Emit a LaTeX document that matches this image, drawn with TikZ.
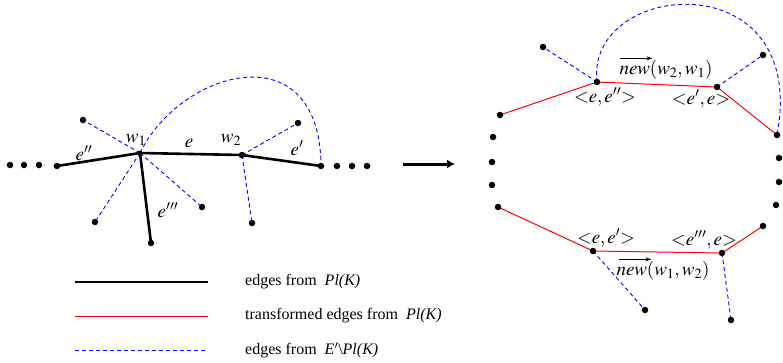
\documentclass[tikz,border=0pt]{standalone}
\usepackage{mathptmx}
\usepackage[no-math]{fontspec}
\setmainfont{Liberation Serif}
\usepackage{tikz}
\usetikzlibrary{arrows.meta, positioning, backgrounds}
\usepackage{xcolor}
\definecolor{EdgeRed}{HTML}{FF0000}
\definecolor{EdgeBlue}{HTML}{0000FF}
\tikzset{
    vtx/.style={circle, fill=black, inner sep=0pt, minimum size=6.5pt},
    plk/.style={line width=2.6pt, line join=round},
    trans/.style={draw=EdgeRed, line width=1pt},
    extra/.style={draw=EdgeBlue, line width=0.9pt, dash pattern=on 4pt off 3pt},
    lbl/.style={font=\fontsize{19}{21}\selectfont, inner sep=0pt},
    newarr/.style={-{Stealth[length=6pt, width=4pt]}, line width=0.8pt},
    legtext/.style={font=\fontsize{16}{18}\selectfont, inner sep=0pt}
}

\begin{document}
\begin{tikzpicture}[x=1pt, y=-1pt]
    \useasboundingbox (0,0) rectangle (783,362);

    % left: a piece of Pl(K)
    \foreach \x [count=\i] in {10,24,39} \node[vtx] (ldl\i) at (\x,165) {};
    \foreach \x [count=\i] in {337,352,367} \node[vtx] (ldr\i) at (\x,166) {};
    \node[vtx] (u0) at (57,166) {};
    \node[vtx, minimum size=5pt] (w1) at (140,153) {};
    \node[vtx] (w2) at (242,155) {};
    \node[vtx] (u3) at (321,166) {};
    \node[vtx] (u4) at (151,243) {};
    \node[vtx] (x1) at (83,120) {};
    \node[vtx] (x2) at (95,222) {};
    \node[vtx] (x3) at (202,207) {};
    \node[vtx] (x4) at (252,223) {};
    \node[vtx] (x5) at (298,123) {};

    \node[lbl] (lw1) at (136,140) {$w_1$};
    \node[lbl] (le) at (189,143) {$e$};
    \node[lbl] (lw2) at (231,140) {$w_2$};
    \node[lbl] (le1) at (297,148) {$e'$};
    \node[lbl] (le2) at (84,153) {$e''$};
    \node[lbl] (le3) at (168,210) {$e'''$};

    \begin{scope}[on background layer]
        \draw[extra] (w1.center) -- (x1);
        \draw[extra] (w1.center) -- (x2);
        \draw[extra] (w1.center) -- (x3);
        \draw[extra] (w2.center) -- (x4);
        \draw[extra] (w2.center) -- (x5);
        \draw[extra] (w1.center) .. controls (180,70) and (320,30) .. (u3.center);
        \draw[plk] (u0.center) -- (w1.center) -- (w2.center) -- (u3.center);
        \draw[plk] (w1.center) -- (u4.center);
    \end{scope}

    \coordinate (ar1) at (403,164);
    \coordinate (ar2) at (455,164);
    \draw[-{Latex[length=8pt, width=9pt]}, line width=3pt] (ar1) -- (ar2);

    % right: the transformed edges
    \foreach \x/\y [count=\i] in {493/137, 492/162, 492/185} \node[vtx] (rdl\i) at (\x,\y) {};
    \foreach \x/\y [count=\i] in {779/158, 779/182, 776/205} \node[vtx] (rdr\i) at (\x,\y) {};
    \node[vtx] (p1) at (500,115) {};
    \node[vtx] (ee2) at (597,82) {};
    \node[vtx] (ee1) at (717,87) {};
    \node[vtx] (p2) at (777,135) {};
    \node[vtx] (q1) at (498,207) {};
    \node[vtx] (ee3) at (593,251) {};
    \node[vtx] (ee4) at (722,253) {};
    \node[vtx] (q2) at (763,226) {};
    \node[vtx] (y1) at (543,47) {};
    \node[vtx] (y2) at (763,55) {};
    \node[vtx] (y3) at (645,310) {};
    \node[vtx] (y4) at (731,320) {};

    \node[lbl] (lee2) at (605,97) {${<}e,e''{>}$};
    \node[lbl] (lee1) at (701,99) {${<}e',e{>}$};
    \node[lbl] (ln21) at (666,70) {$new(w_2,w_1)$};
    \node[lbl] (lee3) at (606,238) {${<}e,e'{>}$};
    \node[lbl] (lee4) at (704,240) {${<}e''',e{>}$};
    \node[lbl] (ln12) at (663,271) {$new(w_1,w_2)$};
    \draw[newarr] ([xshift=1pt, yshift=2pt]ln21.north west) -- ++(32,0);
    \draw[newarr] ([xshift=3pt, yshift=2pt]ln12.north west) -- ++(32,0);

    \begin{scope}[on background layer]
        \draw[extra] (ee2.center) -- (y1);
        \draw[extra] (ee1.center) -- (y2);
        \draw[extra] (ee3.center) -- (y3);
        \draw[extra] (ee4.center) -- (y4);
        \draw[extra] (ee2.center) .. controls (585,-20) and (810,-40) .. (p2.center);
        \draw[trans] (p1.center) -- (ee2.center) -- (ee1.center) -- (p2.center);
        \draw[trans] (q1.center) -- (ee3.center) -- (ee4.center) -- (q2.center);
    \end{scope}

    % legend
    \coordinate (k1a) at (75,282);
    \coordinate (k1b) at (208,282);
    \coordinate (k2a) at (75,316);
    \coordinate (k2b) at (208,316);
    \coordinate (k3a) at (75,350.5);
    \coordinate (k3b) at (208,350.5);
    \draw[plk, line width=2.4pt] (k1a) -- (k1b);
    \draw[trans] (k2a) -- (k2b);
    \draw[extra, line width=1pt] (k3a) -- (k3b);
    \node[legtext, right=37pt of k1b] (t1) {edges from~~\textit{Pl(K)}};
    \node[legtext, right=37pt of k2b] (t2) {transformed edges from~~\textit{Pl(K)}};
    \node[legtext, right=37pt of k3b] (t3) {edges from~~\textit{E}$^{\prime}$\textbackslash\textit{Pl(K)}};
\end{tikzpicture}
\end{document}
